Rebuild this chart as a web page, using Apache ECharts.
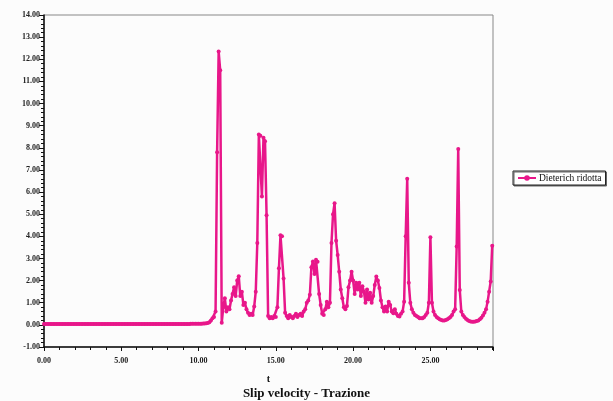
<!DOCTYPE html>
<html>
<head>
<meta charset="utf-8">
<script src="https://cdn.jsdelivr.net/npm/echarts@6/dist/echarts.min.js"></script>
<style>
html,body{margin:0;padding:0;background:#fcfcfc;}
#chart{width:613px;height:401px;}
</style>
</head>
<body>
<div id="chart"></div>
<script>
// Sample times: regular sampling from tStart with step tStep
const tStart = 0;
const tStep = 0.1;
// Slip velocity values (one per sample)
const slipValues = [
  0.04,0.04,0.04,0.04,0.04,0.04,0.04,0.04,0.04,0.04,
  0.04,0.04,0.04,0.04,0.04,0.04,0.04,0.04,0.04,0.04,
  0.04,0.04,0.04,0.04,0.04,0.04,0.04,0.04,0.04,0.04,
  0.04,0.04,0.04,0.04,0.04,0.04,0.04,0.04,0.04,0.04,
  0.04,0.04,0.04,0.04,0.04,0.04,0.04,0.04,0.04,0.04,
  0.04,0.04,0.04,0.04,0.04,0.04,0.04,0.04,0.04,0.04,
  0.04,0.04,0.04,0.04,0.04,0.04,0.04,0.04,0.04,0.04,
  0.04,0.04,0.04,0.04,0.04,0.04,0.04,0.04,0.04,0.04,
  0.04,0.04,0.04,0.04,0.04,0.04,0.04,0.04,0.04,0.04,
  0.04,0.04,0.04,0.04,0.04,0.05,0.05,0.05,0.05,0.05,
  0.05,0.05,0.05,0.06,0.06,0.07,0.08,0.12,0.2,0.3,
  0.35,0.6,7.8,12.35,11.5,0.1,0.8,1.2,0.6,0.8,
  0.7,1.1,1.4,1.7,1.3,2.0,2.2,1.3,1.5,0.9,
  1.0,0.7,0.55,0.45,0.5,0.45,0.83,1.5,3.7,8.6,
  8.55,5.8,8.45,8.3,4.95,0.4,0.3,0.35,0.3,0.4,
  0.35,0.8,2.56,4.05,4.0,2.1,0.55,0.4,0.3,0.45,
  0.35,0.3,0.4,0.5,0.35,0.45,0.5,0.4,0.6,0.7,
  1.0,1.1,1.36,2.6,2.86,2.3,2.94,2.85,1.4,0.9,
  0.5,0.45,0.7,1.05,0.8,1.0,3.7,5.0,5.5,3.8,
  3.16,2.4,1.6,1.2,0.8,0.7,0.85,1.7,2.0,2.4,
  2.0,1.4,1.9,1.6,1.9,1.3,1.75,1.5,1.0,1.6,
  1.15,1.45,1.0,1.3,1.8,2.18,2.0,1.67,1.1,0.8,
  0.6,0.83,0.6,1.05,0.9,0.6,0.53,0.7,0.5,0.4,
  0.38,0.5,0.6,1.05,4.0,6.6,1.9,1.0,0.7,0.55,
  0.45,0.4,0.35,0.3,0.3,0.3,0.35,0.45,0.55,1.0,
  3.96,1.0,0.6,0.45,0.35,0.3,0.25,0.22,0.2,0.2,
  0.22,0.25,0.3,0.35,0.45,0.6,0.7,3.54,7.95,1.58,
  0.6,0.45,0.35,0.28,0.22,0.18,0.15,0.14,0.14,0.15,
  0.17,0.2,0.25,0.32,0.42,0.55,0.7,1.05,1.5,1.96,
  3.58
];
const seriesName = 'Dieterich ridotta';
const xAxisName = 't';
const chartTitle = 'Slip velocity - Trazione';
const xMin = 0, xMax = 29.05, xInterval = 5;
const yMin = -1, yMax = 14, yInterval = 1;

const seriesData = slipValues.map((v, i) => [+(tStart + i * tStep).toFixed(2), v]);

const serif = '"Liberation Serif", "DejaVu Serif", serif';
const pink = '#e8178a';

const chart = echarts.init(document.getElementById('chart'), null, {renderer: 'canvas'});
chart.setOption({
  backgroundColor: '#fcfcfc',
  animation: false,
  title: {
    text: chartTitle,
    left: 'center',
    top: 382,
    textStyle: {fontFamily: serif, fontWeight: 'bold', fontSize: 13, color: '#111'}
  },
  legend: {
    orient: 'vertical',
    left: 513,
    top: 171,
    padding: [2, 4, 2, 4],
    itemWidth: 18,
    itemHeight: 7,
    itemGap: 2,
    backgroundColor: '#fff',
    borderColor: '#222',
    borderWidth: 1,
    shadowColor: '#666',
    shadowOffsetX: 1,
    shadowOffsetY: 1,
    shadowBlur: 0,
    textStyle: {fontFamily: serif, fontSize: 9.5, color: '#111', padding: [0,0,0,-2]},
    data: [seriesName]
  },
  grid: {
    left: 44, right: 120, top: 15, bottom: 54,
    show: true,
    borderColor: '#888',
    borderWidth: 1,
    backgroundColor: 'transparent'
  },
  xAxis: {
    type: 'value',
    min: xMin, max: xMax, interval: xInterval,
    name: xAxisName,
    nameLocation: 'middle',
    nameGap: 27,
    nameTextStyle: {fontFamily: serif, fontWeight: 'bold', fontSize: 10, color: '#111'},
    axisLine: {show: true, onZero: false, lineStyle: {color: '#111', width: 1.5}},
    axisTick: {show: true, inside: false, length: 4, lineStyle: {color: '#111'}},
    minorTick: {show: true, splitNumber: 5, length: 3, lineStyle: {color: '#111'}},
    splitLine: {show: false},
    axisLabel: {
      fontFamily: serif, fontWeight: 'bold', fontSize: 8, color: '#222', margin: 10,
      showMaxLabel: false,
      formatter: v => v.toFixed(2)
    }
  },
  yAxis: {
    type: 'value',
    min: yMin, max: yMax, interval: yInterval,
    axisLine: {show: true, onZero: false, lineStyle: {color: '#111', width: 1.5}},
    axisTick: {show: true, inside: false, length: 5, lineStyle: {color: '#111'}},
    minorTick: {show: true, splitNumber: 5, length: 3, lineStyle: {color: '#111'}},
    splitLine: {show: false},
    axisLabel: {
      fontFamily: serif, fontWeight: 'bold', fontSize: 8, color: '#222', margin: 4,
      formatter: v => v.toFixed(2)
    }
  },
  series: [{
    name: seriesName,
    type: 'line',
    data: seriesData,
    showSymbol: true,
    showAllSymbol: true,
    symbol: 'circle',
    symbolSize: 4,
    lineStyle: {color: pink, width: 2.5},
    itemStyle: {color: pink},
    emphasis: {disabled: true}
  }]
});
</script>
</body>
</html>
